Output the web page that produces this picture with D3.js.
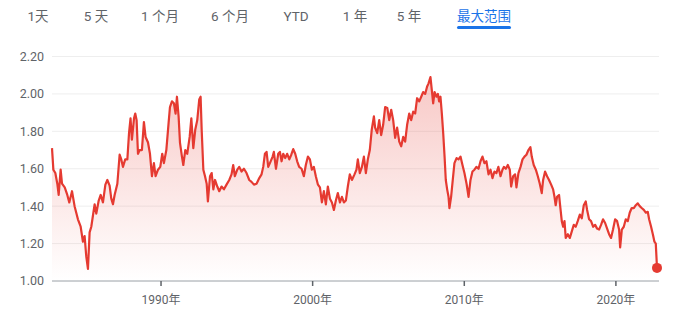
<!DOCTYPE html>
<html>
<head>
<meta charset="utf-8">
<script src="https://cdn.jsdelivr.net/npm/d3@7"></script>
<style>
  body { margin: 0; background: #fff; }
  svg { display: block; font-family: Roboto, "Noto Sans CJK SC", Arial, sans-serif; }
</style>
</head>
<body>
<svg id="chart" width="696" height="314"></svg>
<script>
// range buttons
let rangeTabs = ["1天", "5 天", "1 个月", "6 个月", "YTD", "1 年", "5 年", "最大范围"];
let activeTab = "最大范围";

// axis ticks
let yTicks = [1.00, 1.20, 1.40, 1.60, 1.80, 2.00, 2.20];
let xTickYears = [1990, 2000, 2010, 2020];
let xTickLabels = ["1990年", "2000年", "2010年", "2020年"];

// series (fractional year, rate)
let years = [
  1982.81, 1982.90, 1983.03, 1983.16, 1983.25, 1983.38, 1983.47, 1983.65, 1983.82, 1983.95,
  1984.13, 1984.30, 1984.52, 1984.70, 1984.85, 1984.96, 1985.07, 1985.18, 1985.29, 1985.40,
  1985.51, 1985.62, 1985.73, 1985.89, 1986.02, 1986.17, 1986.33, 1986.46, 1986.61, 1986.72,
  1986.83, 1986.94, 1987.12, 1987.27, 1987.38, 1987.49, 1987.64, 1987.78, 1987.89, 1987.99,
  1988.08, 1988.22, 1988.30, 1988.39, 1988.48, 1988.59, 1988.74, 1988.87, 1988.98, 1989.14,
  1989.27, 1989.40, 1989.53, 1989.64, 1989.80, 1989.95, 1990.08, 1990.19, 1990.35, 1990.50,
  1990.59, 1990.72, 1990.85, 1990.96, 1991.05, 1991.16, 1991.25, 1991.38, 1991.47, 1991.60,
  1991.73, 1991.89, 1992.00, 1992.13, 1992.26, 1992.39, 1992.52, 1992.61, 1992.68, 1992.79,
  1992.90, 1993.01, 1993.09, 1993.23, 1993.34, 1993.45, 1993.56, 1993.71, 1993.84, 1993.99,
  1994.15, 1994.32, 1994.50, 1994.65, 1994.76, 1994.87, 1995.03, 1995.16, 1995.31, 1995.47,
  1995.64, 1995.82, 1995.97, 1996.13, 1996.30, 1996.48, 1996.63, 1996.74, 1996.85, 1996.96,
  1997.07, 1997.18, 1997.36, 1997.44, 1997.58, 1997.73, 1997.84, 1997.95, 1998.06, 1998.19,
  1998.32, 1998.46, 1998.59, 1998.72, 1998.85, 1998.98, 1999.11, 1999.27, 1999.42, 1999.55,
  1999.69, 1999.82, 1999.95, 2000.08, 2000.21, 2000.35, 2000.48, 2000.61, 2000.74, 2000.87,
  2001.00, 2001.14, 2001.27, 2001.40, 2001.53, 2001.66, 2001.80, 2001.93, 2002.06, 2002.19,
  2002.32, 2002.45, 2002.59, 2002.76, 2002.89, 2002.98, 2003.11, 2003.25, 2003.38, 2003.51,
  2003.64, 2003.77, 2003.90, 2004.04, 2004.12, 2004.26, 2004.39, 2004.52, 2004.65, 2004.78,
  2004.92, 2005.05, 2005.18, 2005.31, 2005.44, 2005.57, 2005.71, 2005.84, 2005.97, 2006.10,
  2006.23, 2006.37, 2006.50, 2006.63, 2006.76, 2006.89, 2007.03, 2007.16, 2007.29, 2007.42,
  2007.55, 2007.64, 2007.77, 2007.86, 2007.95, 2008.04, 2008.17, 2008.26, 2008.34, 2008.43,
  2008.52, 2008.61, 2008.70, 2008.78, 2008.87, 2008.96, 2009.02, 2009.13, 2009.24, 2009.35,
  2009.49, 2009.62, 2009.75, 2009.88, 2010.01, 2010.15, 2010.28, 2010.41, 2010.54, 2010.67,
  2010.80, 2010.94, 2011.07, 2011.20, 2011.33, 2011.46, 2011.60, 2011.73, 2011.86, 2011.99,
  2012.12, 2012.25, 2012.39, 2012.52, 2012.61, 2012.74, 2012.87, 2013.00, 2013.09, 2013.22,
  2013.35, 2013.44, 2013.57, 2013.71, 2013.84, 2013.97, 2014.10, 2014.23, 2014.36, 2014.45,
  2014.58, 2014.72, 2014.85, 2014.98, 2015.11, 2015.20, 2015.33, 2015.46, 2015.59, 2015.73,
  2015.86, 2015.95, 2016.03, 2016.12, 2016.25, 2016.34, 2016.43, 2016.52, 2016.61, 2016.69,
  2016.83, 2016.96, 2017.09, 2017.22, 2017.35, 2017.48, 2017.62, 2017.75, 2017.88, 2018.01,
  2018.10, 2018.23, 2018.36, 2018.50, 2018.63, 2018.76, 2018.89, 2019.02, 2019.15, 2019.29,
  2019.42, 2019.55, 2019.68, 2019.81, 2019.95, 2020.08, 2020.21, 2020.28, 2020.39, 2020.52,
  2020.65, 2020.78, 2020.91, 2021.04, 2021.18, 2021.31, 2021.44, 2021.57, 2021.70, 2021.84,
  2021.97, 2022.10, 2022.19, 2022.32, 2022.45, 2022.54, 2022.63, 2022.71
];
let rates = [
  1.710, 1.595, 1.577, 1.520, 1.460, 1.595, 1.520, 1.500, 1.460, 1.420,
  1.480, 1.400, 1.330, 1.290, 1.210, 1.240, 1.130, 1.065, 1.260, 1.290,
  1.350, 1.410, 1.360, 1.430, 1.460, 1.420, 1.515, 1.540, 1.510, 1.440,
  1.410, 1.460, 1.520, 1.675, 1.650, 1.610, 1.650, 1.650, 1.790, 1.870,
  1.755, 1.870, 1.895, 1.860, 1.680, 1.700, 1.700, 1.850, 1.770, 1.740,
  1.680, 1.560, 1.630, 1.560, 1.595, 1.610, 1.680, 1.630, 1.700, 1.845,
  1.930, 1.960, 1.950, 1.895, 1.985, 1.880, 1.740, 1.665, 1.620, 1.700,
  1.680, 1.770, 1.870, 1.710, 1.810, 1.860, 1.970, 1.985, 1.810, 1.595,
  1.560, 1.520, 1.425, 1.560, 1.577, 1.490, 1.540, 1.505, 1.480, 1.505,
  1.490, 1.515, 1.540, 1.570, 1.620, 1.560, 1.595, 1.610, 1.585, 1.600,
  1.577, 1.540, 1.530, 1.515, 1.520, 1.550, 1.570, 1.610, 1.680, 1.690,
  1.610, 1.630, 1.665, 1.690, 1.600, 1.680, 1.690, 1.640, 1.680, 1.657,
  1.680, 1.650, 1.675, 1.705, 1.680, 1.640, 1.610, 1.600, 1.560, 1.620,
  1.665, 1.650, 1.595, 1.610, 1.560, 1.515, 1.500, 1.420, 1.480, 1.410,
  1.505, 1.440, 1.420, 1.380, 1.430, 1.470, 1.420, 1.450, 1.420, 1.430,
  1.505, 1.570, 1.540, 1.570, 1.595, 1.650, 1.577, 1.610, 1.665, 1.577,
  1.650, 1.700, 1.810, 1.880, 1.820, 1.790, 1.860, 1.780, 1.835, 1.930,
  1.925, 1.860, 1.915, 1.860, 1.765, 1.820, 1.745, 1.720, 1.770, 1.745,
  1.835, 1.895, 1.860, 1.905, 1.895, 1.977, 1.960, 1.985, 2.010, 2.000,
  2.040, 2.055, 2.090, 2.020, 1.950, 2.010, 1.985, 2.000, 1.960, 1.985,
  1.895, 1.790, 1.665, 1.540, 1.490, 1.450, 1.390, 1.450, 1.540, 1.630,
  1.657, 1.650, 1.665, 1.620, 1.577, 1.520, 1.450, 1.540, 1.585, 1.595,
  1.610, 1.600, 1.640, 1.665, 1.630, 1.640, 1.570, 1.595, 1.550, 1.585,
  1.577, 1.610, 1.560, 1.595, 1.610, 1.600, 1.620, 1.595, 1.505, 1.560,
  1.570, 1.500, 1.577, 1.610, 1.650, 1.665, 1.675, 1.700, 1.715, 1.665,
  1.620, 1.595, 1.560, 1.520, 1.470, 1.540, 1.585, 1.560, 1.540, 1.515,
  1.490, 1.450, 1.405, 1.450, 1.460, 1.390, 1.320, 1.290, 1.320, 1.230,
  1.250, 1.230, 1.265, 1.300, 1.290, 1.320, 1.355, 1.335, 1.405, 1.425,
  1.380, 1.330, 1.320, 1.290, 1.300, 1.280, 1.275, 1.300, 1.330, 1.310,
  1.280, 1.250, 1.230, 1.275, 1.330, 1.320, 1.275, 1.180, 1.275, 1.290,
  1.330, 1.320, 1.365, 1.390, 1.390, 1.405, 1.415, 1.400, 1.390, 1.380,
  1.365, 1.370, 1.330, 1.290, 1.245, 1.210, 1.200, 1.070
];

let lineColor = "#e53a31";
let svg = d3.select("#chart");

function yearToDate(y) {
  let whole = Math.floor(y);
  let start = new Date(whole, 0, 1).getTime();
  let end = new Date(whole + 1, 0, 1).getTime();
  return new Date(start + (y - whole) * (end - start));
}

let data = years.map((y, i) => ({ date: yearToDate(y), value: rates[i] }));

let xScale = d3.scaleTime()
  .domain(d3.extent(data, d => d.date))
  .range([52, 657]);

let yScale = d3.scaleLinear()
  .domain([1.0, 2.2])
  .range([281, 56.5]);

// range tabs across the top
let tabCenters = {"1天": 38, "5 天": 96, "1 个月": 160, "6 个月": 230, "YTD": 296, "1 年": 355, "5 年": 409, "最大范围": 484};

svg.selectAll(".tab")
  .data(rangeTabs)
  .enter()
  .append("text")
    .attr("class", "tab")
    .attr("x", d => tabCenters[d])
    .attr("y", 21)
    .attr("text-anchor", "middle")
    .style("font-size", "13.5px")
    .style("fill", d => d == activeTab ? "#1a73e8" : "#5f6368")
    .text(d => d);

svg.append("rect")
  .attr("x", tabCenters[activeTab] - 27)
  .attr("y", 26)
  .attr("width", 54)
  .attr("height", 3)
  .attr("rx", 1.5)
  .style("fill", "#1a73e8");

// gradient under the line
let grad = svg.append("defs")
  .append("linearGradient")
    .attr("id", "areaFill")
    .attr("gradientUnits", "userSpaceOnUse")
    .attr("x1", 0).attr("x2", 0)
    .attr("y1", yScale(2.1)).attr("y2", yScale(1.0));
grad.append("stop").attr("offset", "0%").attr("stop-color", lineColor).attr("stop-opacity", 0.28);
grad.append("stop").attr("offset", "100%").attr("stop-color", lineColor).attr("stop-opacity", 0.0);

// horizontal grid
svg.selectAll(".grid")
  .data(yTicks.slice(1))
  .enter()
  .append("line")
    .attr("x1", 52)
    .attr("x2", 659)
    .attr("y1", d => yScale(d))
    .attr("y2", d => yScale(d))
    .style("stroke", "#eeeeee")
    .style("stroke-width", 1);

svg.append("path")
  .datum(data)
  .attr("d", d3.area()
    .x(d => xScale(d.date))
    .y0(yScale(1.0))
    .y1(d => yScale(d.value)))
  .style("fill", "url(#areaFill)");

// y labels
svg.selectAll(".ylab")
  .data(yTicks)
  .enter()
  .append("text")
    .attr("x", 44)
    .attr("y", d => yScale(d))
    .attr("dy", "0.35em")
    .attr("text-anchor", "end")
    .style("font-size", "12.5px")
    .style("fill", "#5f6368")
    .text(d => d.toFixed(2));

// x axis baseline and ticks
svg.append("line")
  .attr("x1", 52)
  .attr("x2", 659)
  .attr("y1", yScale(1.0))
  .attr("y2", yScale(1.0))
  .style("stroke", "#9aa0a6")
  .style("stroke-width", 1);

svg.selectAll(".xtick")
  .data(xTickYears)
  .enter()
  .append("line")
    .attr("x1", d => xScale(new Date(d, 0, 1)))
    .attr("x2", d => xScale(new Date(d, 0, 1)))
    .attr("y1", yScale(1.0))
    .attr("y2", yScale(1.0) + 5)
    .style("stroke", "#5f6368")
    .style("stroke-width", 1.5);

svg.selectAll(".xlab")
  .data(xTickYears)
  .enter()
  .append("text")
    .attr("x", d => xScale(new Date(d, 0, 1)))
    .attr("y", 304)
    .attr("text-anchor", "middle")
    .style("font-size", "12px")
    .style("fill", "#5f6368")
    .text((d, i) => xTickLabels[i]);

// the line itself
svg.append("path")
  .datum(data)
  .attr("d", d3.line()
    .x(d => xScale(d.date))
    .y(d => yScale(d.value)))
  .style("fill", "none")
  .style("stroke", lineColor)
  .style("stroke-width", 2.2)
  .style("stroke-linejoin", "round");

// last point marker
let last = data[data.length - 1];
svg.append("circle")
  .attr("cx", xScale(last.date))
  .attr("cy", yScale(last.value))
  .attr("r", 5)
  .style("fill", lineColor);
</script>
</body>
</html>
